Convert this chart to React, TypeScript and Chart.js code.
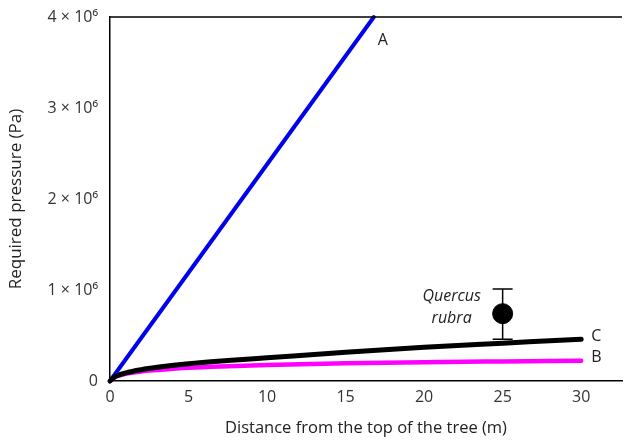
import React, { useEffect, useRef } from "react";
import { Chart, registerables } from "chart.js";

Chart.register(...registerables);

const distA = [0, 16.8];
const pressA = [0, 4000000];
const distBC = [0, 0.25, 0.5, 1, 2, 3, 5, 7.5, 10, 15, 20, 25, 30];
const pressC = [0, 40000, 62000, 90000, 125000, 150000, 190000, 225000, 255000, 315000, 370000, 415000, 460000];
const pressB = [0, 35000, 55000, 80000, 105000, 120000, 145000, 163000, 177000, 195000, 207000, 215000, 222000];
const quercusX = [25];
const quercusY = [740000];
const quercusLow = [460000];
const quercusHigh = [1010000];
const yTickLabels: Record<number, string> = { 0: "0", 1000000: "1 × 10⁶", 2000000: "2 × 10⁶", 3000000: "3 × 10⁶", 4000000: "4 × 10⁶" };
const seriesLabels = [
  { text: "A", x: 16.8, y: 4000000 },
  { text: "C", x: 30, y: 460000 },
  { text: "B", x: 30, y: 222000 },
];

const FONT = "'Open Sans', 'DejaVu Sans', sans-serif";

export default function App() {
  const ref = useRef<HTMLCanvasElement>(null);
  useEffect(() => {
    if (!ref.current) return;
    const overlay = {
      id: "overlay",
      afterDatasetsDraw(chart: any) {
        const { ctx, scales, chartArea } = chart;
        const xs = scales.x, ys = scales.y;
        ctx.save();
        ctx.strokeStyle = "#000";
        ctx.lineWidth = 1.5;
        ctx.beginPath();
        ctx.moveTo(chartArea.left, chartArea.top);
        ctx.lineTo(chartArea.right, chartArea.top);
        ctx.stroke();
        ctx.lineWidth = 1.5;
        quercusX.forEach((qx, i) => {
          const px = xs.getPixelForValue(qx);
          const lo = ys.getPixelForValue(quercusLow[i]);
          const hi = ys.getPixelForValue(quercusHigh[i]);
          ctx.beginPath();
          ctx.moveTo(px, lo); ctx.lineTo(px, hi);
          ctx.moveTo(px - 10, lo); ctx.lineTo(px + 10, lo);
          ctx.moveTo(px - 10, hi); ctx.lineTo(px + 10, hi);
          ctx.stroke();
        });
        ctx.fillStyle = "#222";
        ctx.font = `16px ${FONT}`;
        ctx.textBaseline = "middle";
        ctx.textAlign = "left";
        seriesLabels.forEach((l) => {
          const px = xs.getPixelForValue(l.x);
          const py = ys.getPixelForValue(l.y);
          if (l.text === "A") ctx.fillText(l.text, px + 4, py + 23);
          else ctx.fillText(l.text, px + 10, py - 3);
        });
        ctx.font = `italic 16px ${FONT}`;
        ctx.textAlign = "center";
        const qx = xs.getPixelForValue(quercusX[0]);
        const qy = ys.getPixelForValue(quercusY[0]);
        ctx.fillText("Quercus", qx - 51, qy - 17);
        ctx.fillText("rubra", qx - 51, qy + 5);
        ctx.restore();
      },
    };
    const chart = new Chart(ref.current, {
      type: "scatter",
      data: {
        datasets: [
          {
            label: "Quercus rubra",
            data: quercusX.map((x, i) => ({ x, y: quercusY[i] })),
            backgroundColor: "#000",
            borderColor: "#000",
            pointRadius: 10,
            showLine: false,
            order: 0,
          },
          {
            label: "C",
            data: distBC.map((x, i) => ({ x, y: pressC[i] })),
            borderColor: "#000",
            borderWidth: 5,
            pointRadius: 0,
            showLine: true,
            cubicInterpolationMode: "monotone",
            borderCapStyle: "round",
            order: 1,
          },
          {
            label: "B",
            data: distBC.map((x, i) => ({ x, y: pressB[i] })),
            borderColor: "#ff00ff",
            borderWidth: 4.5,
            pointRadius: 0,
            showLine: true,
            cubicInterpolationMode: "monotone",
            borderCapStyle: "round",
            order: 2,
          },
          {
            label: "A",
            data: distA.map((x, i) => ({ x, y: pressA[i] })),
            borderColor: "#0000ee",
            borderWidth: 4,
            pointRadius: 0,
            showLine: true,
            borderCapStyle: "round",
            order: 3,
          },
        ],
      },
      options: {
        animation: false,
        responsive: false,
        maintainAspectRatio: false,
        clip: false as any,
        layout: { autoPadding: false, padding: { top: 17, right: 3, left: 0, bottom: 0 } },
        plugins: { legend: { display: false }, tooltip: { enabled: false } },
        scales: {
          x: {
            type: "linear",
            min: 0,
            max: 32.6,
            afterFit: (s: any) => { s.height = 61; s.paddingRight = 0; s.paddingLeft = 0; },
            afterBuildTicks: (s: any) => { s.ticks = [0, 5, 10, 15, 20, 25, 30].map((v) => ({ value: v })); },
            grid: { display: false, drawOnChartArea: false, drawTicks: true, tickLength: 6, tickColor: "#000" },
            border: { display: true, color: "#000", width: 1.5 },
            ticks: { color: "#333", font: { family: FONT, size: 16 }, padding: 1 },
            title: { display: true, text: "Distance from the top of the tree (m)", color: "#222", font: { family: FONT, size: 16.5 }, padding: { top: 0 } },
          },
          y: {
            type: "linear",
            min: 0,
            max: 4000000,
            afterFit: (s: any) => { s.width = 110; s.paddingTop = 0; s.paddingBottom = 0; },
            afterBuildTicks: (s: any) => { s.ticks = [0, 1000000, 2000000, 3000000, 4000000].map((v) => ({ value: v })); },
            grid: { display: false, drawOnChartArea: false, drawTicks: true, tickLength: 6, tickColor: "#000" },
            border: { display: true, color: "#000", width: 1.5 },
            ticks: { color: "#333", font: { family: FONT, size: 16 }, padding: 6, callback: (v: any) => yTickLabels[v as number] ?? "" },
            title: { display: true, text: "Required pressure (Pa)", color: "#222", font: { family: FONT, size: 17 }, padding: { top: 6, bottom: 0 } },
          },
        },
      } as any,
      plugins: [overlay],
    });
    return () => chart.destroy();
  }, []);
  return (
    <div style={{ position: "fixed", left: 0, top: 0, width: 625, height: 442, background: "#fff" }}>
      <canvas ref={ref} width={625} height={442} style={{ width: 625, height: 442 }} />
    </div>
  );
}
